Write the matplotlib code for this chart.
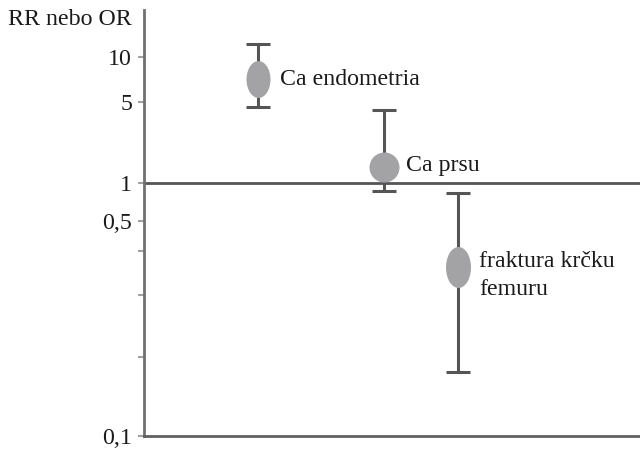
import numpy as np
import matplotlib
matplotlib.use("Agg")
import matplotlib.pyplot as plt
from matplotlib.path import Path
from matplotlib.transforms import Affine2D
from matplotlib.scale import FuncScale

plt.rcParams['font.family'] = ['Liberation Serif', 'DejaVu Serif']

# Relative risk / odds ratio with confidence intervals
labels = ['Ca endometria', 'Ca prsu', 'fraktura krčku\nfemuru']
rr = [7.1, 1.37, 0.36]
ci_low = [4.5, 0.86, 0.175]
ci_high = [12.2, 4.3, 0.83]

tick_values = [0.1, 0.2, 0.3, 0.4, 0.5, 1, 5, 10]
tick_labels = ['0,1', '', '', '', '0,5', '1', '5', '10']

# Hand-drawn, piecewise logarithmic vertical axis
scale_vals = np.log10([0.1, 0.2, 0.3, 0.4, 0.5, 1, 5, 10, 20.6])
scale_pos = np.array([0.0, 0.1854, 0.331, 0.434, 0.5047, 0.594, 0.784, 0.8897, 1.0])


def fwd(v):
    v = np.clip(np.asarray(v, dtype=float), 1e-6, None)
    return np.interp(np.log10(v), scale_vals, scale_pos,
                     left=-1, right=2)


def inv(p):
    return 10 ** np.interp(np.asarray(p, dtype=float), scale_pos, scale_vals)


# horizontal placement and marker shapes (width / height ratio, size in pt)
x_pos = [0.23, 0.484, 0.633]
shape_ratio = [24 / 37, 1.0, 25 / 41]
marker_pt = [26.6, 21.6, 29.5]

line_col = '#555555'
dot_col = '#a3a3a6'
text_col = '#1a1a1a'
fs = 17.2

fig = plt.figure(figsize=(6.4, 4.5), dpi=100)
ax = fig.add_axes([144 / 640, 14 / 450, 496 / 640, 426 / 450])
ax.set_yscale(FuncScale(ax.yaxis, (fwd, inv)))
ax.set_ylim(0.1, 20.6)
ax.set_xlim(0, 1)

for s in ('top', 'right'):
    ax.spines[s].set_visible(False)
ax.spines['left'].set_color('#707070')
ax.spines['left'].set_linewidth(2)
ax.spines['bottom'].set_color('#606060')
ax.spines['bottom'].set_linewidth(2)

ax.set_xticks([])
ax.set_yticks(tick_values)
ax.set_yticklabels(tick_labels)
ax.yaxis.set_minor_locator(matplotlib.ticker.NullLocator())
ax.tick_params(axis='y', length=4.5, width=1.5, color='#a0a0a0',
               labelsize=fs, pad=4, labelcolor=text_col)

ax.axhline(1, color=line_col, lw=2, zorder=1)

for i in range(len(labels)):
    ax.errorbar([x_pos[i]], [rr[i]],
                yerr=[[rr[i] - ci_low[i]], [ci_high[i] - rr[i]]],
                fmt='none', ecolor=line_col, elinewidth=2.2,
                capsize=8.6, capthick=2.2, zorder=2)
    shape = Path.unit_circle().transformed(Affine2D().scale(shape_ratio[i], 1))
    ax.plot([x_pos[i]], [rr[i]], marker=shape, markersize=marker_pt[i],
            color=dot_col, markeredgewidth=0, linestyle='none', zorder=3)

label_dy = [0, 1, -6]
for i, txt in enumerate(labels):
    ax.annotate(txt, (x_pos[i], rr[i]), xytext=(15.5, label_dy[i]),
                textcoords='offset points', ha='left', va='center',
                fontsize=fs, color=text_col, linespacing=1.4)

fig.text(8 / 640, 1 - 25 / 450, 'RR nebo OR', ha='left', va='baseline',
         fontsize=fs, color=text_col)

fig.savefig('out.png', dpi=100)
